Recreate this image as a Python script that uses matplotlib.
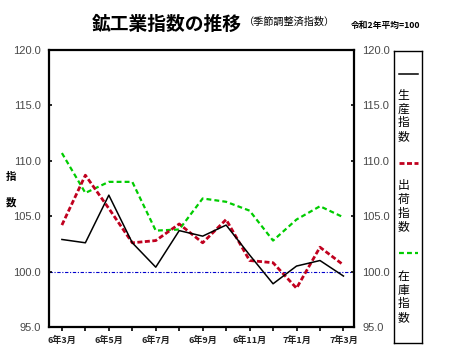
import matplotlib; matplotlib.use('Agg')
import numpy as np
from matplotlib import pyplot as plt

W, H = 466, 356
CJK = ['Noto Sans CJK JP', 'DejaVu Sans']
NUM = ['Liberation Sans Narrow', 'Liberation Sans', 'DejaVu Sans']

months = ['6年3月', '6年4月', '6年5月', '6年6月', '6年7月', '6年8月', '6年9月',
          '6年10月', '6年11月', '6年12月', '7年1月', '7年2月', '7年3月']
production = [102.9, 102.6, 106.9, 102.6, 100.4, 103.7, 103.2,
              104.2, 101.5, 98.9, 100.5, 101.0, 99.6]
shipments = [104.2, 108.7, 105.7, 102.6, 102.8, 104.3, 102.6,
             104.7, 101.0, 100.8, 98.5, 102.2, 100.6]
inventory = [110.7, 107.1, 108.1, 108.1, 103.7, 103.8, 106.6,
             106.3, 105.5, 102.8, 104.7, 105.9, 104.9]

RED = '#C0001E'
GREEN = '#00CC00'

styles = {
    'production': dict(color='black', lw=1.1, ls='-'),
    'shipments': dict(color=RED, lw=2.0, dashes=(1.8, 0.9)),
    'inventory': dict(color=GREEN, lw=1.6, dashes=(2.2, 1.4)),
}

fig = plt.figure(figsize=(W / 100, H / 100), dpi=100)


def px(x, y):
    return x / W, 1 - y / H


ax = fig.add_axes([49 / W, 1 - 327 / H, 305 / W, 277 / H])
x = np.arange(len(months))

ax.axhline(100, color='#0000CC', lw=0.8, ls=(0, (3, 1.5, 1, 1.5)), zorder=1)
ax.plot(x, inventory, **styles['inventory'], zorder=2)
ax.plot(x, shipments, **styles['shipments'], zorder=3)
ax.plot(x, production, **styles['production'], zorder=4)

ax.set_xlim(-0.55, 12.45)
ax.set_ylim(95, 120)
ax.set_yticks(np.arange(95, 121, 5))
ax.set_yticklabels([f'{v:.1f}' for v in np.arange(95, 121, 5)])
ax.set_xticks(x[::2])
ax.set_xticklabels(months[::2])
ax.set_xticks(x[1::2], minor=True)

for s in ax.spines.values():
    s.set_linewidth(1.6)

ax.tick_params(axis='y', direction='in', length=2.5, width=1.2,
               left=True, right=True, labelleft=True, labelright=True,
               pad=6, labelsize=8, labelcolor='#484848')
ax.tick_params(axis='x', which='both', direction='out', length=3, width=1.2,
               pad=3)
for lab in ax.get_yticklabels():
    lab.set_family(NUM)
for lab in ax.get_xticklabels():
    lab.set_family(CJK)
    lab.set_fontsize(6.5)
    lab.set_fontweight('bold')
    lab.set_color('#222222')

# titles
fig.text(*px(167, 24), '鉱工業指数の推移', family=CJK, fontsize=13.5,
         fontweight='bold', ha='center', va='center')
fig.text(*px(290, 22), '（季節調整済指数）', family=CJK, fontsize=7.3,
         ha='center', va='center')
fig.text(*px(386, 25), '令和2年平均=100', family=CJK, fontsize=6.3,
         fontweight='bold', ha='center', va='center')

# y label
fig.text(*px(11, 177), '指', family=CJK, fontsize=7.5, fontweight='bold',
         ha='center', va='center')
fig.text(*px(11, 202), '数', family=CJK, fontsize=7.5, fontweight='bold',
         ha='center', va='center')

# legend box
lg = fig.add_axes([394 / W, 1 - 343 / H, 28 / W, 292 / H])
lg.set_xlim(394, 422)
lg.set_ylim(343, 51)
lg.set_xticks([])
lg.set_yticks([])
for s in lg.spines.values():
    s.set_linewidth(1.0)

entries = [
    ('production', '生産指数', 74, 95.7),
    ('shipments', '出荷指数', 163, 186),
    ('inventory', '在庫指数', 253, 276.7),
]
for key, label, ly, ty in entries:
    lg.plot([398.5, 417.5], [ly, ly], **styles[key])
    for k, ch in enumerate(label):
        lg.text(403.5, ty + k * 13.5, ch, family=CJK, fontsize=8.5,
                ha='center', va='center')

fig.savefig('out.png', dpi=100)
